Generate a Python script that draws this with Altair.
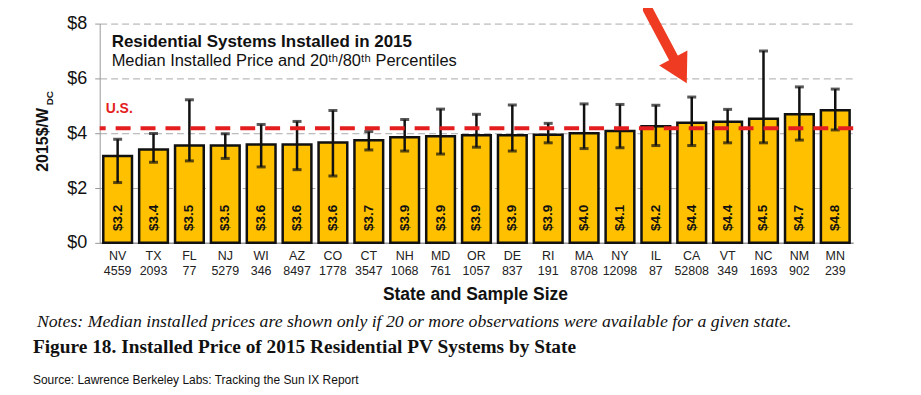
import altair as alt
import pandas as pd

states = ["NV", "TX", "FL", "NJ", "WI", "AZ", "CO", "CT", "NH", "MD", "OR",
          "DE", "RI", "MA", "NY", "IL", "CA", "VT", "NC", "NM", "MN"]
samples = [4559, 2093, 77, 5279, 346, 8497, 1778, 3547, 1068, 761, 1057,
           837, 191, 8708, 12098, 87, 52808, 349, 1693, 902, 239]
median = [3.17, 3.41, 3.55, 3.55, 3.59, 3.59, 3.66, 3.74, 3.85, 3.89, 3.93,
          3.93, 3.94, 4.00, 4.08, 4.25, 4.38, 4.42, 4.53, 4.69, 4.84]
median_labels = ["$3.2", "$3.4", "$3.5", "$3.5", "$3.6", "$3.6", "$3.6", "$3.7",
                 "$3.9", "$3.9", "$3.9", "$3.9", "$3.9", "$4.0", "$4.1", "$4.2",
                 "$4.4", "$4.4", "$4.5", "$4.7", "$4.8"]
p20 = [2.20, 2.94, 2.99, 3.08, 2.77, 2.67, 2.44, 3.39, 3.35, 3.24, 3.49,
       3.35, 3.65, 3.44, 3.47, 3.55, 3.55, 3.65, 3.65, 3.75, 4.12]
p80 = [3.78, 3.99, 5.22, 3.98, 4.32, 4.43, 4.83, 4.06, 4.50, 4.88, 4.69,
       5.03, 4.36, 5.07, 5.05, 5.02, 5.32, 4.87, 7.00, 5.69, 5.61]
us_median = 4.18
y_ticks = [0, 2, 4, 6, 8]

df = pd.DataFrame({
    "cat": [f"{s}|{n}" for s, n in zip(states, samples)],
    "median": median,
    "label": median_labels,
    "p20": p20,
    "p80": p80,
})

SANS = "Liberation Sans, Arial, sans-serif"
SERIF = "Liberation Serif, Times New Roman, serif"
RED = "#E41E1E"

x = alt.X("cat:N", sort=None,
          scale=alt.Scale(paddingInner=0.2, paddingOuter=0.1),
          axis=alt.Axis(title=None, labelExpr="split(datum.value, '|')",
                        labelAngle=0, ticks=False, domain=True,
                        domainColor="#999", domainWidth=1.5,
                        labelFontSize=12.5, labelLineHeight=15, labelPadding=7,
                        labelColor="#222", labelFont=SANS))

yscale = alt.Scale(domain=[0, 8], nice=False)
yaxis = alt.Axis(values=y_ticks, labelExpr="'$' + datum.value",
                 title=None, grid=True, gridDash=[7, 4],
                 gridColor="#aaa", domainColor="#999",
                 tickColor="#999", tickSize=5, labelFontSize=18,
                 labelPadding=8, labelColor="#111", labelFont=SANS)

base = alt.Chart(df)

bars = base.mark_bar(color="#FFC000", stroke="#111", strokeWidth=2.5).encode(
    x=x, y=alt.Y("median:Q", scale=yscale, axis=yaxis))

err = base.mark_rule(color="#111", strokeWidth=2.5).encode(
    x=x, y=alt.Y("p20:Q", scale=yscale, axis=yaxis), y2="p80:Q")
cap_hi = base.mark_tick(color="#111", thickness=3, size=9).encode(
    x=x, y=alt.Y("p80:Q", scale=yscale, axis=yaxis))
cap_lo = base.mark_tick(color="#111", thickness=3, size=9).encode(
    x=x, y=alt.Y("p20:Q", scale=yscale, axis=yaxis))

bar_text = base.mark_text(angle=270, fontWeight="bold", fontSize=13.5,
                          font=SANS, color="#111", align="center",
                          baseline="middle").encode(
    x=x, y=alt.value(195), text="label:N")

one = alt.Data(values=[{}])

us_line = alt.Chart(one).mark_rule(color=RED, strokeWidth=4,
                                   strokeDash=[15, 10]).encode(
    y=alt.datum(us_median, scale=yscale, axis=yaxis))


def txt(s, xp, yp, **kw):
    return alt.Chart(one).mark_text(**kw).encode(
        x=alt.value(xp), y=alt.value(yp), text=alt.value(s))


annos = [
    txt("U.S.", 6, 90, font=SANS, fontSize=14, fontWeight="bold", color=RED,
        align="left", baseline="alphabetic"),
    txt("Residential Systems Installed in 2015", 12, 23.7, font=SANS,
        fontSize=17, fontWeight="bold", color="#111", align="left",
        baseline="alphabetic"),
    txt("Median Installed Price and 20\u1d57\u02b0/80\u1d57\u02b0 Percentiles", 12, 43,
        font=SANS, fontSize=16.5, color="#111", align="left",
        baseline="alphabetic"),
    txt("2015$/W", -57, 148.7, font=SANS, fontSize=16, fontWeight="bold",
        color="#111", angle=270, align="left", baseline="middle"),
    txt("DC", -49.5, 82, font=SANS, fontSize=10, fontWeight="bold",
        color="#111", angle=270, align="left", baseline="middle"),
    txt("State and Sample Size", 377, 277, font=SANS, fontSize=17.5,
        fontWeight="bold", color="#111", align="center",
        baseline="alphabetic"),
    txt("Notes: Median installed prices are shown only if 20 or more observations were available for a given state.",
        -63, 299, font=SERIF, fontSize=17.8, fontStyle="italic", color="#111",
        align="left", baseline="middle"),
    txt("Figure 18. Installed Price of 2015 Residential PV Systems by State",
        -67, 325, font=SERIF, fontSize=19.4, fontWeight="bold", color="#111",
        align="left", baseline="middle"),
    txt("Source: Lawrence Berkeley Labs: Tracking the Sun IX Report",
        -67, 358, font=SANS, fontSize=12, color="#111", align="left",
        baseline="middle"),
]

arrow_shaft = alt.Chart(one).mark_rule(color="#EE3B22", strokeWidth=10,
                                       strokeCap="round").encode(
    x=alt.value(550), y=alt.value(-14), x2=alt.value(576), y2=alt.value(35))
arrow_head = alt.Chart(one).mark_point(shape="M-1,0L1,0L0,1.8Z", filled=True,
                                       color="#EE3B22", opacity=1, size=1024,
                                       angle=332, strokeWidth=0).encode(
    x=alt.value(575.5), y=alt.value(34.5))

chart = alt.layer(bars, err, cap_hi, cap_lo, bar_text, us_line,
                  arrow_shaft, arrow_head, *annos).properties(
    width=756, height=220,
    autosize=alt.AutoSizeParams(type="none"),
    padding={"left": 92, "top": 15, "right": 60, "bottom": 150},
).configure_view(stroke=None)

chart.save("out.html", embed_options={"renderer": "svg", "actions": False})
